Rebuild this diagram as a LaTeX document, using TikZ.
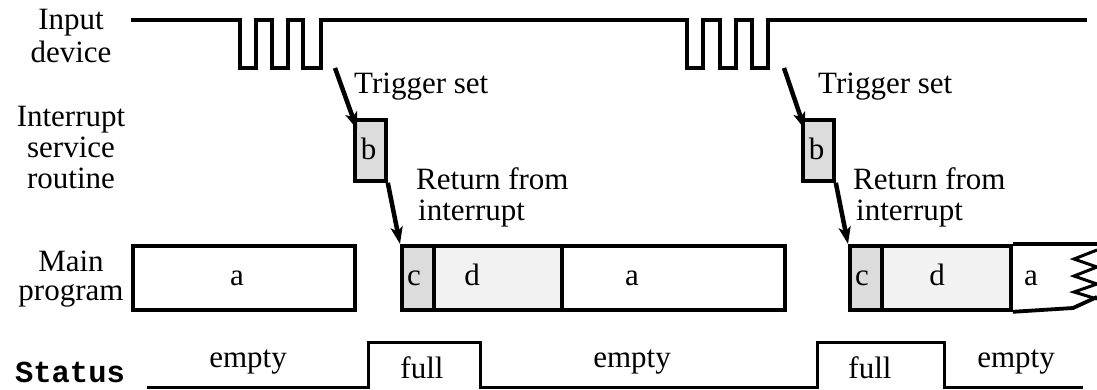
\documentclass[tikz,border=0pt]{standalone}
\usepackage{fontspec}
\setmainfont{Liberation Serif}
\setmonofont{Liberation Mono}
\usetikzlibrary{arrows.meta,calc}
\definecolor{isrgray}{HTML}{DCDCDC}
\definecolor{lightgray}{HTML}{F2F2F2}
\begin{document}
\begin{tikzpicture}[x=1pt,y=-1pt,
  txt/.style={font=\fontsize{31}{31}\selectfont, inner sep=0pt, anchor=base},
  txtw/.style={txt, anchor=base west},
  wave/.style={line width=3.8pt, line join=miter},
  statline/.style={line width=3pt, line join=miter},
  blk/.style={draw, line width=3.8pt, inner sep=0pt, minimum height=64pt, anchor=north west},
  isr/.style={blk, fill=isrgray, minimum height=61pt, minimum width=31pt},
  flow/.style={line width=4.5pt, -{Stealth[length=17pt,width=12pt,inset=4pt]}}]
\useasboundingbox (0,0) rectangle (1097,389);

% row labels
\node[txt] (l1a) at (71,29) {Input};
\node[txt] (l1b) at (71,62) {device};
\node[txt] (l2a) at (71,126) {Interrupt};
\node[txt] (l2b) at (71,157) {service};
\node[txt] (l2c) at (71,188) {routine};
\node[txt] (l3a) at (71,271) {Main};
\node[txt] (l3b) at (71,300) {program};
\node[txt, font=\fontsize{30.5}{31}\selectfont\ttfamily\bfseries] (l4) at (70,382) {Status};

% input device waveform
\draw[wave] (131,20) -- (240,20) -- (240,68) -- (256,68) -- (256,20) -- (272,20) -- (272,68)
  -- (288,68) -- (288,20) -- (303,20) -- (303,68) -- (321,68) -- (321,20)
  -- (687,20) -- (687,68) -- (703,68) -- (703,20) -- (720,20) -- (720,68)
  -- (736,68) -- (736,20) -- (752,20) -- (752,68) -- (768,68) -- (768,20) -- (1087,20);
\coordinate (t1) at (335,68);
\coordinate (t2) at (784,68);

% interrupt service routine blocks
\node[isr] (b1) at (353,118) {};
\node[isr] (b2) at (801,118) {};
\node[txt] (b1t) at (368.5,159) {b};
\node[txt] (b2t) at (816.5,159) {b};

% main program blocks
\node[blk, fill=white, minimum width=222pt] (a1) at (131,244) {};
\node[blk, fill=isrgray, minimum width=32pt] (c1) at (400,244) {};
\node[blk, fill=lightgray, minimum width=128pt] (d1) at (432,244) {};
\node[blk, fill=white, minimum width=223pt] (a2) at (560,244) {};
\node[blk, fill=isrgray, minimum width=32pt] (c2) at (848,244) {};
\node[blk, fill=lightgray, minimum width=129pt] (d2) at (880,244) {};
% unfinished block running off to the right
\draw[line width=3.8pt] (d2.north east) -- (1097,244);
\draw[line width=3.8pt, line join=miter] (d2.south east) -- (1073,308) -- (1097,297);
\draw[line width=3pt, line join=miter] (1097,250) -- (1074,259) -- (1097,267) -- (1074,276)
  -- (1097,284) -- (1074,292) -- (1097,299);

\node[txt] at (237,285) {a};
\node[txt] at (414,285) {c};
\node[txt] at (472,285) {d};
\node[txt] at (632,285) {a};
\node[txt] at (862,285) {c};
\node[txt] at (937,285) {d};
\node[txt] at (1031,285) {a};

% control transfers
\draw[flow, shorten >=-12pt] (t1) -- (b1.north west);
\draw[flow] (b1.south east) -- (c1.north west);
\draw[flow, shorten >=-12pt] (t2) -- (b2.north west);
\draw[flow] (b2.south east) -- (c2.north west);

\node[txtw] at (354,93) {Trigger set};
\node[txtw] at (818,93) {Trigger set};
\node[txtw] at (416,189) {Return from};
\node[txtw] at (418,220) {interrupt};
\node[txtw] at (853,189) {Return from};
\node[txtw] at (856,220) {interrupt};

% status flag
\draw[statline] (147,387.5) -- (368,387.5) -- (368,342) -- (480,342) -- (480,387.5)
  -- (817,387.5) -- (817,342) -- (944,342) -- (944,387.5) -- (1083,387.5);
\node[txt] at (248,367) {empty};
\node[txt] at (422,378) {full};
\node[txt] at (632,367) {empty};
\node[txt] at (870,378) {full};
\node[txt] at (1016,367) {empty};
\end{tikzpicture}
\end{document}
